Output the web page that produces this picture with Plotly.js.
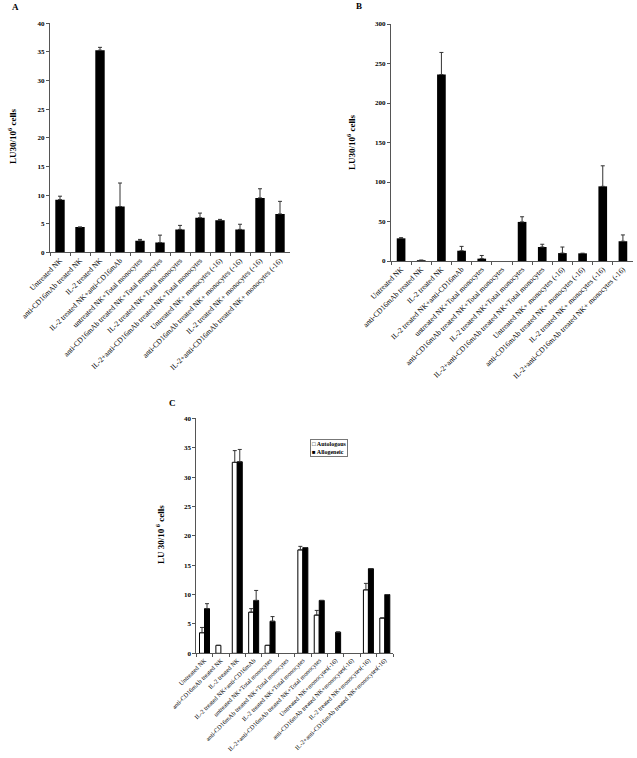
<!DOCTYPE html>
<html>
<head>
<meta charset="utf-8">
<script src="https://cdn.plot.ly/plotly-3.0.1.min.js"></script>
<style>
  html, body { margin: 0; padding: 0; background: #fff; }
  #chart { width: 637px; height: 758px; }
</style>
</head>
<body>
<div id="chart"></div>
<script>
// Category labels (panels A and B)
const labelsAB = [
  'Untreated NK',
  'anti-CD16mAb treated NK',
  'IL-2 treated NK',
  'IL-2 treated NK+anti-CD16mAb',
  'untreated NK+Total monocytes',
  'anti-CD16mAb treated NK+Total monocytes',
  'IL-2 treated NK+Total monocytes',
  'IL-2+anti-CD16mAb treated NK+Total monocytes',
  'Untreated NK+ monocytes (-16)',
  'anti-CD16mAb treated NK+ monocytes (-16)',
  'IL-2 treated NK+ monocytes (-16)',
  'IL-2+anti-CD16mAb treated NK+ monocytes (-16)'
];

// Category labels (panel C)
const labelsC = [
  'Untreated NK',
  'anti-CD16mAb treated NK',
  'IL-2 treated NK',
  'IL-2 treated NK+anti-CD16mAb',
  'untreated NK+Total monocytes',
  'anti-CD16mAb treated NK+Total monocytes',
  'IL-2 treated NK+Total monocytes',
  'IL-2+anti-CD16mAb treated NK+Total monocytes',
  'Untreated NK+monocytes(-16)',
  'anti-CD16mAb treated NK+monocytes(-16)',
  'IL-2 treated NK+monocytes(-16)',
  'IL-2+anti-CD16mAb treated NK+monocytes(-16)'
];

// Panel A
const valuesA = [9.2, 4.4, 35.3, 8.0, 2.0, 1.7, 4.0, 6.05, 5.6, 4.0, 9.5, 6.7];
const errorsA = [0.6, 0, 0.5, 4.1, 0.25, 1.3, 0.7, 0.8, 0.15, 0.9, 1.6, 2.2];

// Panel B
const valuesB = [28.7, 1, 236, 13, 3, null, 49.5, 17.7, 10, 9.7, 94.5, 25];
const errorsB = [0.8, 0, 28, 5.5, 4, 0, 6.5, 3.5, 7.7, 0, 26, 8];

// Panel C
const seriesNames = ['Autologous', 'Allogeneic'];
const autologous = [3.5, 1.35, 32.5, 7.0, 1.35, null, 17.6, 6.5, null, null, 10.8, 6.0];
const autologousErr = [0.9, 0, 2.0, 0.6, 0, 0, 0.6, 0.8, 0, 0, 1.1, 0];
const allogeneic = [7.6, null, 32.6, 9.0, 5.45, null, 18.0, 9.0, 3.6, null, 14.4, 10.0];
const allogeneicErr = [0.85, 0, 2.1, 1.7, 0.8, 0, 0, 0, 0, 0, 0, 0];

const W = 637, H = 758;
const px = v => v / W;
const py = v => 1 - v / H;

const serif = 'Liberation Serif, Times New Roman, serif';
const axisColor = '#555';

function errBar(arr) {
  return {
    type: 'data', symmetric: false, array: arr,
    arrayminus: arr.map(() => 0),
    color: '#333', thickness: 1, width: 2
  };
}

const traces = [
  {
    type: 'bar', x: labelsAB, y: valuesA, xaxis: 'x', yaxis: 'y',
    width: 0.47, marker: { color: '#000' },
    error_y: errBar(errorsA)
  },
  {
    type: 'bar', x: labelsAB, y: valuesB, xaxis: 'x2', yaxis: 'y2',
    width: 0.43, marker: { color: '#000' },
    error_y: errBar(errorsB)
  },
  {
    type: 'bar', x: labelsC, y: autologous, xaxis: 'x3', yaxis: 'y3',
    name: seriesNames[0],
    marker: { color: '#fff', line: { color: '#000', width: 1 } },
    error_y: errBar(autologousErr)
  },
  {
    type: 'bar', x: labelsC, y: allogeneic, xaxis: 'x3', yaxis: 'y3',
    name: seriesNames[1],
    marker: { color: '#000', line: { color: '#000', width: 1 } },
    error_y: errBar(allogeneicErr)
  }
];

function xAxis(domain, anchor, size) {
  return {
    domain: domain, anchor: anchor,
    showline: true, linecolor: axisColor, linewidth: 1,
    ticks: 'outside', tickson: 'boundaries', ticklen: 3, tickcolor: axisColor,
    tickangle: -45, tickfont: { family: serif, size: size, color: '#000' },
    showgrid: false, zeroline: false, fixedrange: true
  };
}

function yAxis(domain, anchor, max, dtick) {
  return {
    domain: domain, anchor: anchor, range: [0, max], dtick: dtick,
    showline: true, linecolor: axisColor, linewidth: 1,
    ticks: 'outside', ticklen: 3, tickcolor: axisColor,
    tickfont: { family: serif, size: 7, color: '#000', weight: 'bold' },
    showgrid: false, zeroline: false, fixedrange: true
  };
}

const titleFont = { family: serif, size: 9, color: '#000', weight: 'bold' };
const panelFont = { family: serif, size: 9, color: '#000', weight: 'bold' };

const annotations = [
  { text: 'A', x: px(15), y: py(7) },
  { text: 'B', x: px(359), y: py(6) },
  { text: 'C', x: px(172), y: py(403) }
].map(a => Object.assign({
  xref: 'paper', yref: 'paper', showarrow: false, font: panelFont,
  xanchor: 'center', yanchor: 'middle'
}, a));

[
  { text: 'LU30/10<sup>6</sup> cells', x: px(12), y: py(137) },
  { text: 'LU30/10<sup>6</sup> cells', x: px(351), y: py(142) },
  { text: 'LU 30/10<sup> 6</sup> cells', x: px(160), y: py(535) }
].forEach(a => annotations.push(Object.assign({
  xref: 'paper', yref: 'paper', showarrow: false, font: titleFont,
  textangle: -90, xanchor: 'center', yanchor: 'middle'
}, a)));

// compact boxed legend for panel C
annotations.push({
  xref: 'paper', yref: 'paper', showarrow: false,
  x: px(310), y: py(439), xanchor: 'left', yanchor: 'top', align: 'left',
  text: '\u25A1 ' + seriesNames[0] + '<br>\u25A0 ' + seriesNames[1],
  font: { family: serif, size: 6, color: '#000', weight: 'bold' },
  bgcolor: '#fff', bordercolor: '#777', borderwidth: 1, borderpad: 1
});

const layout = {
  width: W, height: H,
  margin: { l: 0, r: 0, t: 0, b: 0 },
  paper_bgcolor: '#fff', plot_bgcolor: '#fff',
  barmode: 'group', bargap: 0.39, bargroupgap: 0,
  showlegend: false,
  xaxis: xAxis([px(50), px(290)], 'y', 7.5),
  yaxis: yAxis([py(252.3), py(23.3)], 'x', 40, 5),
  xaxis2: xAxis([px(391), px(633)], 'y2', 7.5),
  yaxis2: yAxis([py(261), py(24)], 'x2', 300, 50),
  xaxis3: xAxis([px(196.3), px(393)], 'y3', 6.3),
  yaxis3: yAxis([py(653.3), py(418.3)], 'x3', 40, 5),
  annotations: annotations
};

Plotly.newPlot('chart', traces, layout, { displayModeBar: false, staticPlot: true });
</script>
</body>
</html>
